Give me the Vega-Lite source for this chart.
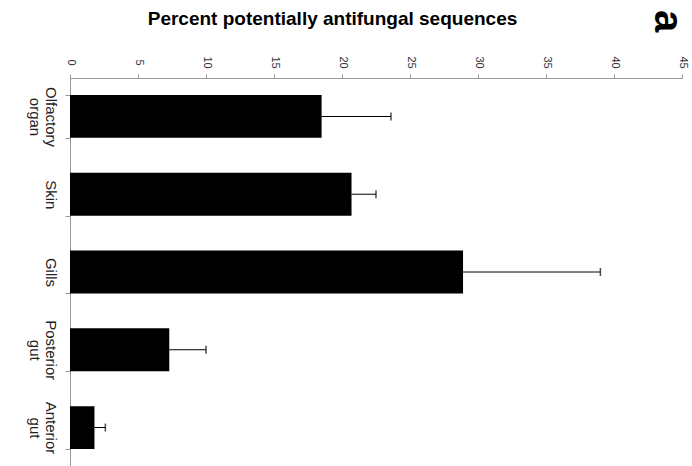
{
  "$schema": "https://vega.github.io/schema/vega-lite/v6.json",
  "autosize": {"type": "none"},
  "width": 612,
  "height": 388,
  "padding": {"left": 70, "top": 78, "right": 10, "bottom": 0},
  "background": "white",
  "config": {"view": {"stroke": null}, "font": "Liberation Sans"},
  "data": {"values": [
    {"tissue": "Olfactory organ", "value": 18.5, "upper": 23.6},
    {"tissue": "Skin", "value": 20.7, "upper": 22.5},
    {"tissue": "Gills", "value": 28.9, "upper": 39.0},
    {"tissue": "Posterior gut", "value": 7.3, "upper": 10.0},
    {"tissue": "Anterior gut", "value": 1.8, "upper": 2.6}
  ]},
  "encoding": {
    "y": {"field": "tissue", "type": "nominal", "sort": null,
      "scale": {"paddingInner": 0.45, "paddingOuter": 0.22},
      "axis": {"title": null, "labelAngle": 90, "labelAlign": "center", "labelBaseline": "top",
        "labelExpr": "split(datum.label, ' ')", "labelFontSize": 15, "labelColor": "#222", "labelPadding": 8,
        "tickBand": "extent", "tickSize": 5, "tickColor": "#999", "domainColor": "#999", "labelLineHeight": 16}}
  },
  "layer": [
    {"mark": {"type": "bar", "color": "black"},
     "encoding": {"x": {"field": "value", "type": "quantitative",
        "scale": {"domain": [0, 45], "nice": false},
        "axis": {"orient": "top", "values": [0,5,10,15,20,25,30,35,40,45], "labelAngle": 90, "labelAlign": "center", "labelBaseline": "middle",
          "labelFontSize": 11, "labelColor": "#333", "labelPadding": 12, "grid": false, "tickSize": 4, "tickColor": "#999", "domainColor": "#999",
          "title": "Percent potentially antifungal sequences", "titleFontSize": 19, "titleFontWeight": "bold", "titleColor": "black",
          "titleX": 262, "titleY": -50}}}},
    {"mark": {"type": "rule", "color": "black", "strokeWidth": 1},
     "encoding": {"x": {"field": "value", "type": "quantitative"}, "x2": {"field": "upper"}}},
    {"mark": {"type": "tick", "color": "black", "orient": "vertical", "size": 8, "thickness": 1.5},
     "encoding": {"x": {"field": "upper", "type": "quantitative"}}},
    {"data": {"values": [{"panel": "a"}]},
     "mark": {"type": "text", "angle": 90, "align": "center", "baseline": "middle", "fontSize": 40, "fontWeight": "bold", "font": "Liberation Sans", "color": "black", "yOffset": -74},
     "encoding": {"text": {"field": "panel"}, "x": {"datum": 43.9, "type": "quantitative"}, "y": {"datum": "Olfactory organ", "type": "nominal", "bandPosition": 0}}}
  ]
}
